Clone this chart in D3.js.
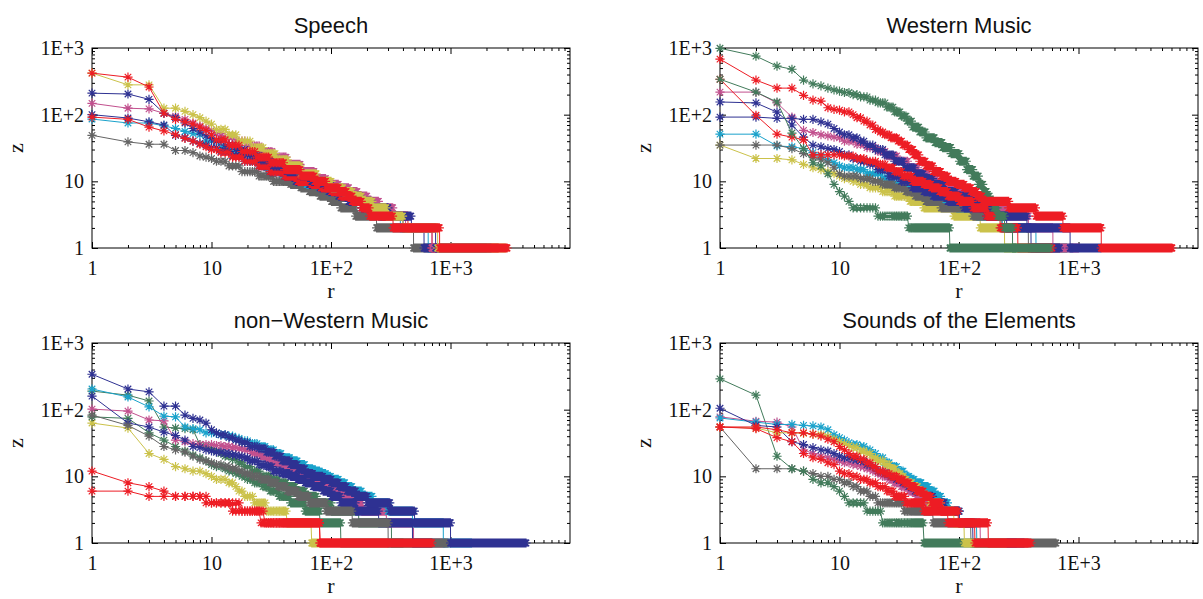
<!DOCTYPE html>
<html lang="en">
<head>
<meta charset="utf-8">
<title>Rank-frequency plots</title>
<style>
  body { margin: 0; background: #fff; }
  svg { display: block; }
  .title { font: 22px "Liberation Sans", Arial, sans-serif; fill: #111; }
  .axis-label { font: 22px "Liberation Serif", "Times New Roman", serif; fill: #111; }
</style>
</head>
<body>
<div id="chart"></div>
<script src="https://d3js.org/d3.v7.min.js"></script>
<script>
// Each curve: z for ranks 1..k (head), then runs [z, last rank with that z] (steps)
const panelTitles = ["Speech", "Western Music", "non\u2212Western Music", "Sounds of the Elements"];
const xTicks = [1, 10, 100, 1000];
const xTickLabels = ["1", "10", "1E+2", "1E+3"];
const yTicks = [1, 10, 100, 1000];
const yTickLabels = ["1", "10", "1E+2", "1E+3"];

const speechNames = ["gray", "cyan", "blue", "red", "pink", "blue", "yellow", "red"];
const speechHeads = [
  [49, 39, 36, 36, 29, 29, 27, 24, 23, 22],
  [86, 75, 75, 68, 62, 56, 52, 50],
  [100, 89, 78, 70, 49, 45, 40, 37, 35],
  [92, 85, 65, 57, 50, 44, 40, 36, 33],
  [148, 125, 122, 105, 95, 85, 75, 68, 62, 58],
  [210, 204, 170, 105, 90, 75, 62, 55, 48, 44],
  [420, 280, 280, 125, 125, 112, 100, 90, 80, 72],
  [420, 365, 260, 105, 85, 78, 72, 65, 58, 50]
];
const speechSteps = [
  [[20,13],[17,17],[14,24],[12,32],[10,45],[9,55],[8,65],[7,80],[6,100],[5,120],[4,160],[3,240],[2,490],[1,1800]],
  [[40,11],[32,15],[26,20],[20,28],[16,38],[13,50],[11,62],[9,80],[8,95],[7,120],[6,150],[5,190],[4,260],[3,380],[2,650],[1,2000]],
  [[32,11],[28,14],[24,18],[20,24],[17,30],[14,40],[12,50],[10,65],[9,80],[8,95],[7,115],[6,140],[5,180],[4,250],[3,400],[2,600],[1,2000]],
  [[30,11],[27,14],[23,18],[20,24],[17,30],[14,40],[12,52],[10,68],[9,82],[8,100],[7,120],[6,150],[5,190],[4,270],[3,440],[2,700],[1,2500]],
  [[52,12],[46,15],[40,19],[34,25],[28,32],[23,42],[18,55],[14,72],[11,90],[9,115],[8,140],[7,165],[6,200],[5,250],[4,330],[3,420],[2,700],[1,2500]],
  [[40,12],[35,15],[30,19],[25,25],[21,32],[17,42],[14,55],[12,68],[10,85],[9,100],[8,120],[7,145],[6,175],[5,220],[4,300],[3,470],[2,750],[1,2200]],
  [[60,13],[50,16],[40,21],[32,27],[26,34],[21,43],[17,55],[13,75],[10,100],[8,125],[7,150],[6,180],[5,220],[4,290],[3,400],[2,780],[1,2900]],
  [[42,13],[35,17],[28,23],[23,30],[19,40],[15,55],[12,72],[10,90],[8,115],[7,135],[6,150],[5,180],[4,210],[3,330],[2,810],[1,3000]]
];

const westernNames = ["yellow", "cyan", "gray", "pink", "blue", "blue", "red", "green", "green", "red"];
const westernHeads = [
  [35, 22, 22, 21, 18, 16, 15, 14, 13, 12],
  [51, 51, 34, 33, 31, 27, 24, 21, 19, 17],
  [35, 35, 35, 31, 26, 23, 21, 19, 16, 13],
  [218, 218, 150, 92, 58, 54, 50, 48, 46, 45],
  [155, 150, 109, 70, 46, 35, 33, 31, 30, 28],
  [92, 92, 88, 88, 85, 85, 78, 72, 62, 55],
  [340, 98, 51, 46, 42, 25, 25, 25, 25, 25],
  [340, 218, 155, 53, 31, 19, 17, 13, 9],
  [990, 755, 535, 480, 330, 290, 270, 250, 235, 225],
  [680, 330, 250, 250, 195, 165, 160, 127, 120, 117]
];
const westernSteps = [
  [[11,12],[10,14],[9,17],[8,22],[7,28],[6,38],[5,50],[4,90],[3,150],[2,240],[1,700]],
  [[16,13],[15,16],[13,22],[11,28],[9,38],[8,45],[7,55],[6,70],[5,95],[4,140],[3,230],[2,440],[1,900]],
  [[12,14],[11,18],[10,22],[9,28],[8,35],[7,42],[6,52],[5,70],[4,130],[3,225],[2,380],[1,800]],
  [[40,13],[36,16],[32,20],[28,24],[24,30],[20,37],[16,45],[13,55],[11,65],[9,80],[8,95],[7,110],[6,140],[5,180],[4,250],[3,380],[2,610],[1,1000]],
  [[25,12],[22,14],[20,17],[18,20],[15,25],[12,32],[10,40],[8,50],[7,60],[6,80],[5,110],[4,170],[3,250],[2,400],[1,700]],
  [[50,12],[45,14],[40,16],[35,19],[30,23],[25,28],[20,34],[16,42],[13,50],[11,60],[9,75],[7,95],[6,120],[5,150],[4,200],[3,370],[2,850],[1,1550]],
  [[24,13],[22,16],[20,20],[18,24],[16,28],[14,33],[12,40],[10,50],[9,58],[8,68],[7,80],[6,100],[5,130],[4,170],[3,220],[2,310],[1,600]],
  [[7,10],[6,11],[5,12],[4,20],[3,37],[2,83],[1,300]],
  [[215,12],[200,14],[185,17],[165,20],[150,24],[130,28],[110,32],[95,36],[80,40],[65,46],[55,52],[45,62],[38,72],[32,85],[26,100],[20,115],[15,130],[12,145],[9,158],[7,170],[6,180],[5,195],[4,210],[3,240],[2,280],[1,577]],
  [[110,12],[100,13],[90,15],[80,17],[70,19],[60,21],[55,23],[50,26],[45,30],[40,33],[35,37],[30,41],[25,46],[20,52],[17,60],[14,70],[12,80],[10,95],[9,110],[8,125],[7,140],[6,156],[5,260],[4,440],[3,740],[2,1550],[1,6100]]
];

const nonWesternNames = ["yellow", "green", "green", "pink", "cyan", "blue", "gray", "blue", "red", "red"];
const nonWesternHeads = [
  [63, 53, 22, 18, 14, 13, 12, 12, 11, 10],
  [78, 74, 45, 35, 28, 24, 21, 19, 17, 15],
  [190, 165, 135, 55, 53, 52, 50, 30, 28, 26],
  [102, 95, 70, 68, 35, 33, 31, 30, 30, 30],
  [204, 155, 110, 80, 78, 55, 52, 50, 45, 45],
  [160, 63, 55, 46, 41, 35, 28, 27, 25, 24],
  [83, 58, 40, 28, 25, 23, 20, 18, 17, 16],
  [340, 204, 185, 113, 113, 83, 74, 70, 63, 50],
  [6, 6, 5, 5, 5, 5, 5, 5],
  [12, 8, 7, 6, 5, 5, 5, 5, 5]
];
const nonWesternSteps = [
  [[9,13],[8,15],[7,16],[6,18],[5,22],[4,28],[3,42],[2,68],[1,80]],
  [[14,12],[13,13],[12,15],[11,17],[10,19],[9,22],[8,26],[7,30],[6,36],[5,45],[4,60],[3,80],[2,120],[1,400]],
  [[24,11],[22,12],[20,14],[18,16],[16,18],[14,21],[12,25],[10,31],[9,36],[8,42],[7,50],[6,60],[5,75],[4,100],[3,170],[2,320],[1,900]],
  [[29,12],[28,14],[27,16],[26,18],[25,21],[22,25],[20,28],[18,32],[16,37],[14,43],[12,52],[11,60],[10,68],[9,78],[8,90],[7,105],[6,125],[5,150],[4,180],[3,290],[2,490],[1,1000]],
  [[44,11],[42,13],[40,15],[37,17],[34,20],[31,24],[28,28],[25,33],[22,38],[19,45],[17,52],[15,60],[13,70],[12,80],[11,90],[10,100],[9,115],[8,130],[7,150],[6,180],[5,220],[4,300],[3,480],[2,870],[1,1500]],
  [[23,12],[22,14],[21,16],[20,18],[19,20],[17,24],[15,28],[14,32],[12,38],[11,45],[10,52],[9,60],[8,70],[7,85],[6,100],[5,120],[4,160],[3,250],[2,480],[1,700]],
  [[15,12],[14,14],[13,16],[12,18],[11,21],[10,25],[9,30],[8,35],[7,42],[6,52],[5,65],[4,90],[3,150],[2,300],[1,950]],
  [[45,11],[42,13],[38,15],[35,17],[32,20],[28,24],[26,28],[23,33],[20,38],[17,45],[15,52],[13,60],[11,70],[10,85],[9,100],[8,115],[7,135],[6,160],[5,200],[4,310],[3,500],[2,1000],[1,4300]],
  [[4,14],[3,25],[2,80],[1,300]],
  [[4,17],[3,27],[2,80],[1,700]]
];

const elementsNames = ["gray", "green", "pink", "cyan", "blue", "yellow", "red", "red"];
const elementsHeads = [
  [55, 13, 13, 13, 12, 11, 10, 10, 9, 9],
  [290, 165, 20, 13, 12, 9, 8, 8, 7, 6],
  [78, 67, 65, 55, 25, 22, 20, 19, 18, 17],
  [75, 65, 60, 60, 58, 57, 55, 50, 42, 38],
  [105, 58, 55, 33, 30, 27, 25, 24, 22, 20],
  [55, 53, 45, 45, 44, 43, 42, 40, 36, 33],
  [55, 52, 38, 33, 22, 19, 18, 16, 15, 12],
  [55, 55, 50, 45, 45, 43, 40, 36, 33, 28]
];
const elementsSteps = [
  [[8,12],[7,14],[6,17],[5,20],[4,34],[3,60],[2,125],[1,650]],
  [[5,11],[4,16],[3,22],[2,50],[1,135]],
  [[16,12],[15,14],[14,16],[13,18],[12,20],[11,22],[10,25],[9,28],[8,32],[7,37],[6,43],[5,52],[4,70],[3,100],[2,150],[1,300]],
  [[35,11],[32,12],[30,14],[28,16],[25,18],[22,20],[19,23],[16,26],[14,30],[12,34],[10,38],[9,42],[8,48],[7,55],[6,62],[5,70],[4,80],[3,100],[2,140],[1,300]],
  [[19,12],[18,14],[17,16],[15,18],[14,20],[12,23],[11,26],[10,29],[9,33],[8,37],[7,42],[6,50],[5,60],[4,75],[3,100],[2,130],[1,350]],
  [[31,11],[29,12],[27,14],[24,16],[22,18],[19,20],[17,23],[15,26],[13,29],[11,32],[10,34],[9,36],[8,40],[7,45],[6,50],[5,56],[4,70],[3,90],[2,110],[1,250]],
  [[11,12],[10,14],[9,17],[8,20],[7,24],[6,28],[5,35],[4,50],[3,80],[2,135],[1,380]],
  [[25,11],[22,12],[20,14],[18,16],[16,18],[14,20],[12,23],[11,26],[10,30],[9,34],[8,38],[7,43],[6,50],[5,58],[4,70],[3,98],[2,175],[1,400]]
];

const palette = {
  red: "#ed1c24", blue: "#2e3192", yellow: "#cbc24a", pink: "#c2508e",
  cyan: "#1aa2cb", gray: "#646464", green: "#427b5b"
};

const panels = [
  { title: panelTitles[0], names: speechNames, heads: speechHeads, steps: speechSteps },
  { title: panelTitles[1], names: westernNames, heads: westernHeads, steps: westernSteps },
  { title: panelTitles[2], names: nonWesternNames, heads: nonWesternHeads, steps: nonWesternSteps },
  { title: panelTitles[3], names: elementsNames, heads: elementsHeads, steps: elementsSteps }
];

const width = 1203, height = 599;
const cols = [[92, 570], [720, 1198]];
const rows = [[48, 248], [343, 543]];
const markR = 4.6;
const serif = '"Liberation Serif", "Times New Roman", serif';

const svg = d3.select("#chart").append("svg")
    .attr("width", width)
    .attr("height", height);

// run-length data -> one point per rank
function expand(head, steps) {
    const pts = head.map((z, i) => [i + 1, z]);
    let r = head.length + 1;
    steps.forEach(([z, last]) => {
        for (; r <= last; r++) pts.push([r, z]);
    });
    return pts;
}

function starPath(px, py) {
    const d = markR * 0.7071;
    return `M${px - markR},${py}h${2 * markR}M${px},${py - markR}v${2 * markR}` +
           `M${px - d},${py - d}l${2 * d},${2 * d}M${px - d},${py + d}l${2 * d},${-2 * d}`;
}

panels.forEach((p, i) => {
    const [x0, x1] = cols[i % 2];
    const [y0, y1] = rows[Math.floor(i / 2)];

    const x = d3.scaleLog().domain([1, 1e4]).range([x0, x1]);
    const y = d3.scaleLog().domain([1, 1e3]).range([y1, y0]);

    const g = svg.append("g");

    g.append("rect")
        .attr("x", x0).attr("y", y0)
        .attr("width", x1 - x0).attr("height", y1 - y0)
        .attr("fill", "none").attr("stroke", "#000").attr("stroke-width", 1);

    const minorX = x.ticks().filter(v => !xTicks.includes(v) && v < 1e4);
    const minorY = y.ticks().filter(v => !yTicks.includes(v) && v < 1e3);

    // major ticks with labels
    g.append("g").attr("transform", `translate(0,${y1})`)
        .call(d3.axisBottom(x).tickValues(xTicks).tickSizeInner(-6).tickSizeOuter(0)
            .tickPadding(13).tickFormat((d, k) => xTickLabels[k]));
    g.append("g").attr("transform", `translate(${x0},0)`)
        .call(d3.axisLeft(y).tickValues(yTicks).tickSizeInner(-6).tickSizeOuter(0)
            .tickPadding(8).tickFormat((d, k) => yTickLabels[k]));
    g.append("g").attr("transform", `translate(0,${y0})`)
        .call(d3.axisTop(x).tickValues(xTicks).tickSizeInner(-6).tickSizeOuter(0).tickFormat(""));
    g.append("g").attr("transform", `translate(${x1},0)`)
        .call(d3.axisRight(y).tickValues(yTicks).tickSizeInner(-6).tickSizeOuter(0).tickFormat(""));

    // minor ticks
    g.append("g").attr("transform", `translate(0,${y1})`)
        .call(d3.axisBottom(x).tickValues(minorX).tickSizeInner(-3).tickSizeOuter(0).tickFormat(""));
    g.append("g").attr("transform", `translate(0,${y0})`)
        .call(d3.axisTop(x).tickValues(minorX).tickSizeInner(-3).tickSizeOuter(0).tickFormat(""));
    g.append("g").attr("transform", `translate(${x0},0)`)
        .call(d3.axisLeft(y).tickValues(minorY).tickSizeInner(-3).tickSizeOuter(0).tickFormat(""));
    g.append("g").attr("transform", `translate(${x1},0)`)
        .call(d3.axisRight(y).tickValues(minorY).tickSizeInner(-3).tickSizeOuter(0).tickFormat(""));

    g.selectAll(".domain").remove();
    g.selectAll(".tick line").attr("stroke", "#000");
    g.selectAll(".tick text")
        .attr("font-family", null).attr("font-size", null)
        .style("font-family", serif)
        .style("font-size", "20px")
        .style("fill", "#111");

    // titles and axis names
    g.append("text").attr("class", "title")
        .attr("x", (x0 + x1) / 2).attr("y", y0 - 15)
        .attr("text-anchor", "middle")
        .text(p.title);
    g.append("text").attr("class", "axis-label")
        .attr("x", (x0 + x1) / 2).attr("y", y1 + 50)
        .attr("text-anchor", "middle")
        .text("r");
    g.append("text").attr("class", "axis-label")
        .attr("transform", `translate(${x0 - 69},${(y0 + y1) / 2}) rotate(-90)`)
        .attr("text-anchor", "middle")
        .text("z");

    const line = d3.line().x(d => x(d[0])).y(d => y(d[1]));

    p.names.forEach((name, k) => {
        const pts = expand(p.heads[k], p.steps[k]);
        const color = palette[name];

        // keep only the corners of each plateau for the polyline
        const corners = pts.filter((d, j) =>
            j === 0 || j === pts.length - 1 ||
            d[1] !== pts[j - 1][1] || d[1] !== pts[j + 1][1]);

        g.append("path")
            .attr("d", line(corners))
            .attr("fill", "none")
            .attr("stroke", color)
            .attr("stroke-width", 1);

        // asterisk markers, skipping ones that would land on the same pixel
        let dPath = "", lastX = -1e9, lastZ = null;
        pts.forEach(d => {
            const px = x(d[0]), py = y(d[1]);
            if (d[1] === lastZ && px - lastX < 0.6) return;
            dPath += starPath(px, py);
            lastX = px; lastZ = d[1];
        });
        g.append("path")
            .attr("d", dPath)
            .attr("fill", "none")
            .attr("stroke", color)
            .attr("stroke-width", 1.2);
    });
});
</script>
</body>
</html>
